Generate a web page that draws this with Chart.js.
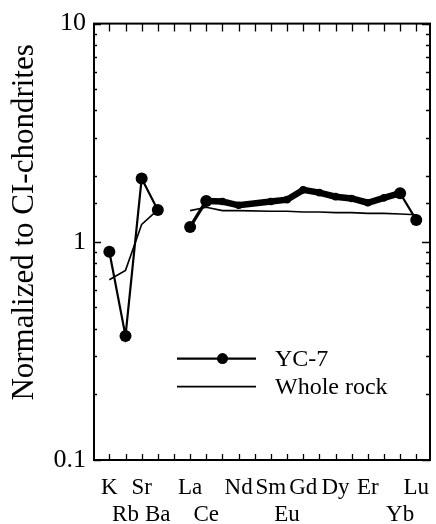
<!DOCTYPE html>
<html><head><meta charset="utf-8">
<script src="https://cdn.jsdelivr.net/npm/chart.js@4"></script>
<style>html,body{margin:0;padding:0;background:#fff}#wrap{width:436px;height:524px;position:relative}</style>
</head><body><div id="wrap"><canvas id="c" width="436" height="524"></canvas></div>
<script>
// ---- data ----
const elements = ['K','Rb','Sr','Ba','','La','Ce','Pr','Nd','Pm','Sm','Eu','Gd','Tb','Dy','Ho','Er','Tm','Yb','Lu'];
const topRowLabels = ['K','Sr','La','Nd','Sm','Gd','Dy','Er','Lu'];
const bottomRowLabels = ['Rb','Ba','Ce','Eu','Yb'];
const yc7 = [0.90,0.37,1.95,1.40,null,1.17,1.54,1.53,1.47,null,1.53,1.56,1.73,1.68,1.61,1.58,1.51,1.59,1.67,1.26];
const wholeRock = [0.67,0.74,1.20,1.40,null,1.39,1.44,1.39,1.39,null,1.38,1.38,1.37,1.37,1.36,1.36,1.35,1.35,1.34,1.33];
const yTickLabels = [0.1,1,10];
const seriesNames = ['YC-7','Whole rock'];

const FONT = "'Liberation Serif','Times New Roman',serif";
Chart.defaults.color = '#000';
Chart.defaults.font.family = FONT;

// keep the null in the empty column (breaks the line), drop unanalysed Pm (line is continuous across it)
const toPoints = arr => arr.map((v,i)=> ({x:i, y:v})).filter(p => !(p.y == null && elements[p.x] !== ''));
const pxOf = (ctx, i) => ctx.chart.scales.x.getPixelForValue(i);
const thickFrom = elements.indexOf('Ce'), thickTo = elements.indexOf('Yb'), laIdx = elements.indexOf('La');
const isThick = ctx => ctx.p0.x >= pxOf(ctx, thickFrom) - 1 && ctx.p1.x <= pxOf(ctx, thickTo) + 1;
const isLaCe = ctx => Math.abs(ctx.p0.x - pxOf(ctx, laIdx)) < 1;
const bigPts = ['K','Rb','Sr','Ba','La','Ce','Yb','Lu'];

const isDecade = v => yTickLabels.some(t => Math.abs(v - t) < 1e-9);

const frameTicks = {
  id:'frameTicks',
  afterDatasetsDraw(chart){
    const {ctx, chartArea:a, scales:{x,y}} = chart;
    ctx.save();
    ctx.strokeStyle = '#000';
    ctx.lineWidth = 1.3;
    ctx.beginPath();
    x.ticks.forEach(t=>{
      const px = Math.round(x.getPixelForValue(t.value))+0.5;
      ctx.moveTo(px,a.bottom); ctx.lineTo(px,a.bottom-6);
      ctx.moveTo(px,a.top); ctx.lineTo(px,a.top+8);
    });
    y.ticks.forEach(t=>{
      const py = Math.round(y.getPixelForValue(t.value))+0.5;
      const maj = isDecade(t.value);
      ctx.moveTo(a.left,py); ctx.lineTo(a.left+(maj?7:3),py);
      ctx.moveTo(a.right,py); ctx.lineTo(a.right-(maj?8:4),py);
    });
    ctx.stroke();
    ctx.lineWidth = 2;
    ctx.strokeRect(a.left, a.top, a.right-a.left, a.bottom-a.top);
    ctx.restore();
  }
};

const legendPlugin = {
  id:'innerLegend',
  afterDraw(chart){
    const {ctx, chartArea:a} = chart;
    const x0 = a.left + 83, x1 = a.left + 162, tx = a.left + 181;
    const rows = [a.top + 335, a.top + 363];
    ctx.save();
    ctx.strokeStyle = '#000'; ctx.fillStyle = '#000';
    chart.data.datasets.forEach((ds,i)=>{
      const yy = rows[i];
      ctx.lineWidth = i===0 ? 2.2 : 1.6;
      ctx.beginPath(); ctx.moveTo(x0,yy); ctx.lineTo(x1,yy); ctx.stroke();
      if (i===0){ ctx.beginPath(); ctx.arc((x0+x1)/2+6, yy, 5.5, 0, Math.PI*2); ctx.fill(); }
      ctx.font = "24px " + FONT;
      ctx.textBaseline = 'middle'; ctx.textAlign = 'left';
      ctx.fillText(ds.label, tx, yy+1);
    });
    ctx.restore();
  }
};

new Chart(document.getElementById('c'), {
  type:'line',
  data:{
    datasets:[
      {
        label: seriesNames[0],
        data: toPoints(yc7),
        borderColor:'#000', backgroundColor:'#000',
        pointBackgroundColor:'#000', pointBorderColor:'#000',
        pointRadius: ctx => (ctx.raw && bigPts.includes(elements[ctx.raw.x])) ? 6 : 3.8,
        pointBorderWidth:0,
        borderWidth:2.2,
        spanGaps:false,
        segment:{
          borderWidth: ctx => isThick(ctx) ? 6.5 : (isLaCe(ctx) ? 3.2 : 2.2)
        },
        tension:0
      },
      {
        label: seriesNames[1],
        data: toPoints(wholeRock),
        borderColor:'#000', backgroundColor:'#000',
        pointRadius:0,
        borderWidth:1.6,
        spanGaps:false,
        tension:0
      }
    ]
  },
  options:{
    responsive:false,
    animation:false,
    devicePixelRatio:1,
    layout:{padding:{top:22,right:3,left:0,bottom:0}},
    plugins:{legend:{display:false}, tooltip:{enabled:false}},
    scales:{
      x:{
        type:'linear',
        min:-0.95, max:19.85,
        afterBuildTicks: s => { s.ticks = elements.map((e,i)=>({value:i})); },
        afterFit: s => { s.height = 64; s.paddingLeft = 0; s.paddingRight = 0; },
        grid:{display:false, drawTicks:false},
        border:{display:false},
        ticks:{
          autoSkip:false, maxRotation:0, padding:14,
          font:{size:23, family:FONT},
          callback: (v) => {
            const lab = elements[v];
            if (topRowLabels.includes(lab)) return lab;
            if (bottomRowLabels.includes(lab)) return ['', lab];
            return '';
          }
        }
      },
      y:{
        type:'logarithmic',
        min:0.1, max:10,
        afterFit: s => { s.width = 94; },
        grid:{display:false, drawTicks:false},
        border:{display:false},
        ticks:{
          autoSkip:false, padding:8,
          font:{size:26, family:FONT},
          callback: v => isDecade(v) ? String(yTickLabels.find(t=>Math.abs(v-t)<1e-9)) : ''
        },
        title:{
          display:true,
          text:'     Normalized to CI-chondrites',
          font:{size:31, family:FONT},
          padding:{top:6,bottom:0}
        }
      }
    }
  },
  plugins:[frameTicks, legendPlugin]
});
</script>
</body></html>
